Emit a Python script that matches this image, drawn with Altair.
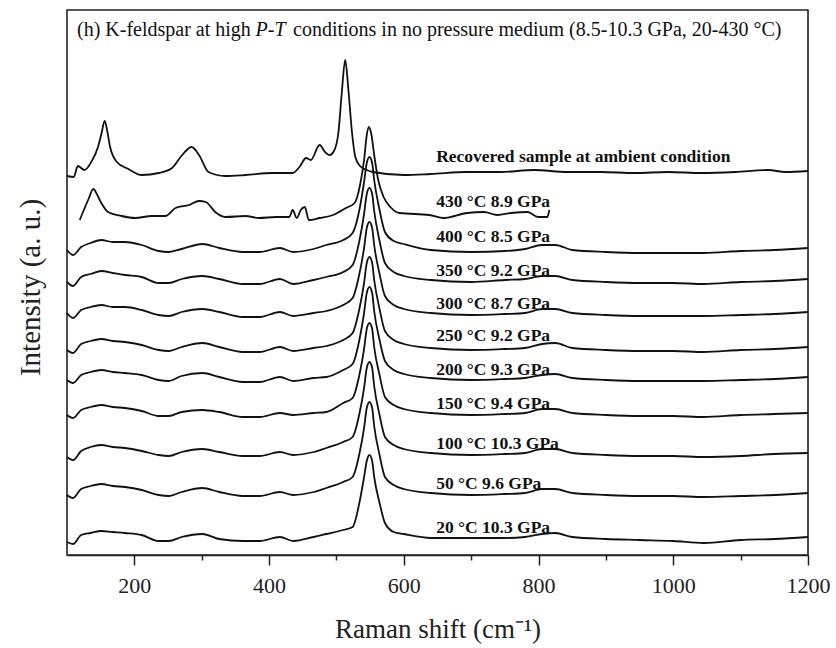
import altair as alt
import pandas as pd

# Raman shift grid (cm-1) shared by the high-pressure spectra
shift = [100, 109, 121, 135, 151, 168, 186, 211, 236, 251, 270, 301, 326, 361, 386,
         416, 436, 466, 485, 510, 524, 534, 541, 545, 549, 553, 556, 564, 572, 585,
         600, 640, 700, 750, 780, 805, 825, 850, 900, 950, 1000, 1045, 1100, 1150, 1200]

int_400 = [0, -5, 3, 7, 10, 8, 8, 5, -1, -2, 1, 6, 2, -2, -2, 2, -2, 1, 5, 10, 17, 40, 68, 87, 93, 87, 70, 40, 18, 9, 6, 0, -2, -1, 1, 5, 5, 0, -2, -3, -3, -3, -1, 0, 2]
int_350 = [-2, -6, 3, 6, 9, 7, 5, 3, -3, -3, 1, 4, 1, -4, -4, 1, -4, 0, 3, 8, 15, 39, 66, 86, 92, 86, 69, 39, 17, 8, 4, 0, -2, 0, 1, 4, 4, 0, -2, -3, -3, -4, -2, -1, 1]
int_300 = [0, -5, 3, 6, 8, 6, 6, 3, -2, -3, 1, 4, 1, -4, -4, 1, -3, 0, 2, 8, 15, 39, 65, 85, 91, 85, 68, 39, 17, 8, 4, 0, -2, -1, 0, 4, 4, 0, -2, -3, -3, -3, -2, -1, 1]
int_250 = [-2, -5, 4, 7, 9, 7, 6, 3, -2, -3, 1, 5, 1, -4, -4, 1, -3, 0, 2, 8, 15, 39, 65, 85, 91, 85, 68, 39, 17, 8, 4, 0, -2, -1, 0, 4, 5, 0, -2, -3, -3, -4, -2, -1, 1]
int_200 = [-2, -5, 3, 6, 8, 6, 5, 3, -2, -3, 2, 5, 1, -4, -4, 1, -3, 0, 1, 8, 14, 38, 65, 85, 91, 85, 67, 38, 17, 8, 4, 0, -2, -1, 0, 3, 4, 0, -2, -3, -3, -3, -2, -1, 1]
int_150 = [-2, -5, 3, 6, 8, 6, 5, 2, -3, -3, 1, 3, 1, -4, -4, 0, -2, 0, 1, 10, 15, 38, 64, 84, 90, 84, 66, 38, 16, 8, 4, 0, -2, -1, 0, 4, 4, 0, -2, -3, -3, -4, -2, -1, 0]
int_100 = [-4, -7, 2, 6, 8, 6, 5, 2, -2, -3, 1, 4, 1, -3, -3, 1, -2, 1, 5, 11, 16, 39, 65, 85, 91, 85, 67, 38, 16, 8, 4, 0, -2, -1, 0, 4, 4, 0, -2, -3, -3, -4, -3, -1, 0]
int_50 = [-2, -5, 4, 7, 9, 7, 6, 3, -2, -3, 1, 5, 1, -3, -3, 1, -2, 1, 5, 11, 16, 39, 65, 85, 91, 85, 67, 38, 16, 8, 4, 0, -2, -1, 0, 4, 4, 0, -2, -3, -3, -4, -3, -2, 0]
int_20 = [-4, -6, 3, 5, 7, 6, 5, 3, -3, -3, 1, 4, -1, -3, -3, 1, -3, 1, 4, 8, 11, 35, 61, 77, 83, 77, 61, 35, 15, 6, 4, 0, 0, 0, 1, 4, 5, 1, -1, -2, -3, -5, -2, -1, 1]

# Recovered sample
shift_rec = [100, 110, 116, 126, 136, 146, 151, 156, 160, 164, 174, 191, 211, 236, 256,
             271, 285, 296, 310, 335, 365, 405, 435, 445, 455, 462, 475, 483, 490, 497,
             503, 508, 513, 518, 523, 528, 535, 545, 554, 600, 640, 694, 744, 793, 843,
             893, 943, 992, 1042, 1092, 1141, 1166, 1200]
int_rec = [-4, -5, 6, 2, 10, 25, 38, 51, 40, 25, 10, 3, -3, -1, 4, 17, 25, 17, 0, -4,
           -3, -1, -1, 5, 14, 12, 27, 20, 17, 22, 40, 80, 112, 80, 40, 15, 6, 2, 0, -3,
           -2, 0, 0, 2, 0, 0, -1, 0, -1, 0, 2, 0, 1]

# 430 °C spectrum
shift_430 = [119, 125, 132, 139, 145, 151, 161, 181, 201, 226, 246, 261, 281, 296, 306,
             320, 335, 365, 385, 410, 430, 435, 441, 447, 453, 459, 475, 495, 514, 527,
             535, 541, 545, 548, 552, 556, 562, 570, 580, 594, 638, 659, 694, 719, 739,
             759, 784, 799, 813, 816]
int_430 = [-5, 5, 16, 26, 20, 12, 3, -1, -3, -1, -1, 7, 10, 14, 13, 3, -2, -1, -3, -2,
           -2, 5, -3, 5, 8, -5, -3, 0, 7, 12, 30, 55, 80, 88, 80, 60, 35, 18, 8, 2,
           0, -3, 2, 3, 0, 2, 3, -2, -2, 5]

labels = ["Recovered sample at ambient condition", "430 \u00b0C 8.9 GPa", "400 \u00b0C 8.5 GPa",
          "350 \u00b0C 9.2 GPa", "300 \u00b0C 8.7 GPa", "250 \u00b0C 9.2 GPa", "200 \u00b0C 9.3 GPa",
          "150 \u00b0C 9.4 GPa", "100 \u00b0C 10.3 GPa", "50 \u00b0C 9.6 GPa", "20 \u00b0C 10.3 GPa"]
offsets = [383, 340, 305, 275, 242, 207, 177, 142, 102, 62, 17]
label_y = [398, 353, 318, 284, 251, 219, 185, 151, 111, 71, 27]
label_x = 648

spectra = [(shift_rec, int_rec), (shift_430, int_430), (shift, int_400), (shift, int_350),
           (shift, int_300), (shift, int_250), (shift, int_200), (shift, int_150),
           (shift, int_100), (shift, int_50), (shift, int_20)]

rows = []
for name, off, (xs, ys) in zip(labels, offsets, spectra):
    for xv, yv in zip(xs, ys):
        rows.append({"x": xv, "y": yv + off, "series": name})
df = pd.DataFrame(rows)
lab_df = pd.DataFrame({"x": [label_x] * len(labels), "y": label_y, "label": labels})

title_reg = pd.DataFrame({"x": [114.8, 435.5], "y": [519, 519],
                          "t": ["(h) K-feldspar at high",
                                "conditions in no pressure medium (8.5-10.3 GPa, 20-430 \u00b0C)"]})
title_it = pd.DataFrame({"x": [380.0], "y": [519], "t": ["P-T"]})

FONT = "Liberation Serif"
xscale = alt.Scale(domain=[100, 1200], nice=False, zero=False)
yscale = alt.Scale(domain=[0, 545], nice=False, zero=False)

major_axis = alt.Axis(values=[200, 400, 600, 800, 1000, 1200], orient="bottom", grid=False,
                      format="d",
                      tickSize=10, tickWidth=1.5, tickColor="#222", domainColor="#222",
                      domainWidth=1.6, labelFont=FONT, labelFontSize=22, labelColor="#222",
                      labelPadding=10, labelFlush=False,
                      title="Raman shift (cm\u207b\u00b9)", titleFont=FONT, titleFontSize=27,
                      titleFontWeight="normal", titleColor="#222", titleBaseline="middle",
                      titleY=74)
minor_axis = alt.Axis(values=[300, 500, 700, 900, 1100], orient="bottom", grid=False,
                      tickSize=5, tickWidth=1.5, tickColor="#222", labels=False,
                      domain=False, title=None)
yaxis = alt.Axis(labels=False, ticks=False, domain=False, grid=False,
                 title="Intensity (a. u.)", titleFont=FONT, titleFontSize=29,
                 titleFontWeight="normal", titleColor="#222", titleAngle=270,
                 titleX=-37, titleY=277, titleAlign="center", titleBaseline="middle")

lines = alt.Chart(df).mark_line(color="#111", strokeWidth=1.8, interpolate="monotone").encode(
    x=alt.X("x:Q", scale=xscale, axis=major_axis),
    y=alt.Y("y:Q", scale=yscale, axis=yaxis),
    detail="series:N",
)
lab = alt.Chart(lab_df).mark_text(align="left", baseline="middle", font=FONT, fontSize=17.5,
                                   fontWeight="bold", color="#111").encode(
    x=alt.X("x:Q", scale=xscale, axis=minor_axis),
    y=alt.Y("y:Q", scale=yscale, axis=yaxis),
    text="label:N",
)
treg = alt.Chart(title_reg).mark_text(align="left", baseline="alphabetic", font=FONT,
                                      fontSize=20, color="#111").encode(
    x=alt.X("x:Q", scale=xscale, axis=None),
    y=alt.Y("y:Q", scale=yscale, axis=yaxis),
    text="t:N",
)
tit = alt.Chart(title_it).mark_text(align="left", baseline="alphabetic", font=FONT,
                                    fontSize=20, fontStyle="italic", color="#111").encode(
    x=alt.X("x:Q", scale=xscale, axis=None),
    y=alt.Y("y:Q", scale=yscale, axis=yaxis),
    text="t:N",
)

chart = alt.layer(lines, lab, treg, tit).resolve_axis(x="independent").properties(
    width=741, height=545,
    autosize=alt.AutoSizeParams(type="none"),
    padding={"left": 67, "top": 10, "right": 28, "bottom": 93},
).configure_view(stroke="#222", strokeWidth=1.6)

chart.save("out.html", embed_options={"renderer": "svg", "actions": False})
